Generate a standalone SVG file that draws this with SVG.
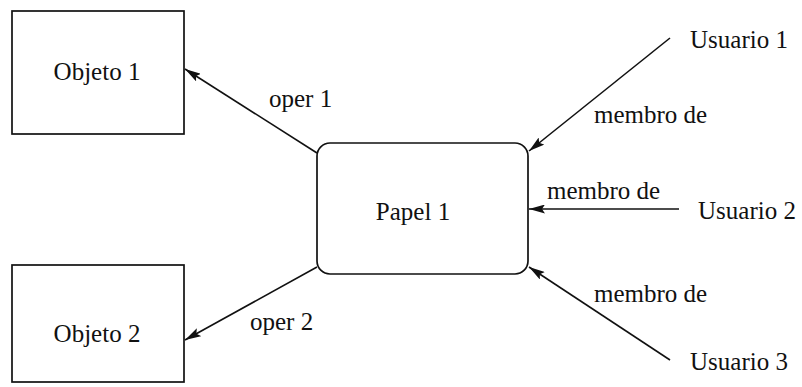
<svg xmlns="http://www.w3.org/2000/svg" width="802" height="387" viewBox="0 0 802 387">
  <defs>
    <marker id="arrow" viewBox="0 0 16 9" refX="16" refY="4.5" markerWidth="16" markerHeight="9" markerUnits="userSpaceOnUse" orient="auto">
      <path d="M0,0 L16,4.5 L0,9 L3,4.5 Z" fill="#111"/>
    </marker>
  </defs>
  <style>
    .box { fill: #fff; stroke: #111; stroke-width: 1.7; }
    .lbl { font-family: "Liberation Serif", "DejaVu Serif", "Times New Roman", serif; font-size: 25px; fill: #111; }
    .edge { stroke: #111; stroke-width: 1.6; fill: none; marker-end: url(#arrow); }
  </style>
  <rect width="802" height="387" fill="#fff"/>

  <g id="objeto1">
    <rect class="box" x="12" y="11" width="172" height="123"/>
    <text class="lbl" x="97" y="80" text-anchor="middle">Objeto 1</text>
  </g>

  <g id="objeto2">
    <rect class="box" x="12" y="265" width="172" height="117"/>
    <text class="lbl" x="97" y="342" text-anchor="middle">Objeto 2</text>
  </g>

  <g id="papel1">
    <rect class="box" x="317" y="143" width="211" height="131" rx="13" ry="13"/>
    <text class="lbl" x="413" y="220" text-anchor="middle">Papel 1</text>
  </g>

  <g id="usuario1">
    <text class="lbl" x="690" y="48">Usuario 1</text>
  </g>

  <g id="usuario2">
    <text class="lbl" x="698" y="219">Usuario 2</text>
  </g>

  <g id="usuario3">
    <text class="lbl" x="690" y="370">Usuario 3</text>
  </g>

  <g id="connectors">
    <line class="edge" x1="317" y1="153" x2="185" y2="69"/>
    <line class="edge" x1="317" y1="267" x2="185" y2="340"/>
    <line class="edge" x1="670" y1="38" x2="529" y2="151"/>
    <line class="edge" x1="679" y1="209" x2="529" y2="209"/>
    <line class="edge" x1="670" y1="360" x2="529" y2="267"/>
    <text class="lbl" x="269" y="107">oper 1</text>
    <text class="lbl" x="250" y="330">oper 2</text>
    <text class="lbl" x="594" y="123">membro de</text>
    <text class="lbl" x="547" y="199">membro de</text>
    <text class="lbl" x="594" y="302">membro de</text>
  </g>
</svg>
